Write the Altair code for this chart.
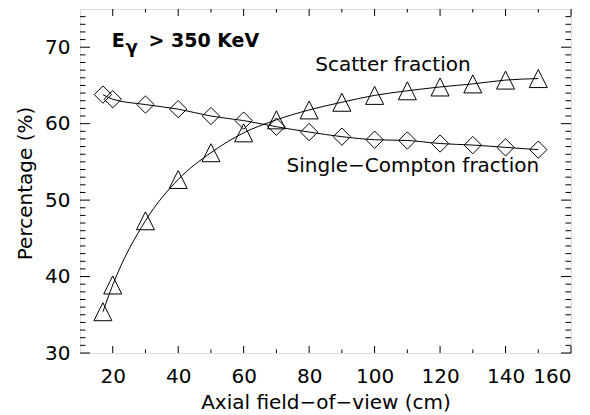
import altair as alt
import pandas as pd

# ---- data ----
afov = [17, 20, 30, 40, 50, 60, 70, 80, 90, 100, 110, 120, 130, 140, 150]
scatter_frac = [35.4, 38.9, 47.3, 52.7, 56.2, 58.8, 60.5, 61.8, 62.8, 63.7, 64.3, 64.8, 65.2, 65.7, 65.9]
single_frac = [63.8, 63.2, 62.5, 61.9, 61.0, 60.4, 59.6, 58.9, 58.3, 57.9, 57.8, 57.4, 57.2, 56.9, 56.6]

x_major = [20, 40, 60, 80, 100, 120, 140, 160]
x_minor = [30, 50, 70, 90, 110, 130, 150]
y_major = [30, 40, 50, 60, 70]
y_minor = [31, 32, 33, 34, 35, 36, 37, 38, 39, 41, 42, 43, 44, 45, 46, 47, 48, 49,
           51, 52, 53, 54, 55, 56, 57, 58, 59, 61, 62, 63, 64, 65, 66, 67, 68, 69,
           71, 72, 73, 74]

label_text = ["Scatter fraction", "Single\u2212Compton fraction"]
label_x = [105.6, 111.7]
label_y = [66.95, 53.7]

energy_text = ["E", "\u03b3", "> 350 KeV"]
energy_x = [19.7, 23.9, 30.9]
energy_y = [70.0, 69.2, 70.0]
energy_size = [19, 18, 19]

W, H = 491, 344
FONT = "DejaVu Sans"

xscale = alt.Scale(domain=[10, 160], nice=False, zero=False)
yscale = alt.Scale(domain=[30, 75], nice=False, zero=False)

x_axis = alt.Axis(values=x_major, title="Axial field\u2212of\u2212view (cm)",
                  tickSize=0, domain=False, grid=False, labelFontSize=20,
                  labelFont=FONT, labelColor="black", labelPadding=13,
                  titleFont=FONT, titleFontSize=20, titleFontWeight="normal",
                  titleColor="black", titleX=W / 2, titleY=55,
                  titleBaseline="alphabetic", titleAlign="center")
y_axis = alt.Axis(values=y_major, title="Percentage (%)", tickSize=0, domain=False,
                  grid=False, labelFontSize=20, labelFont=FONT, labelColor="black",
                  labelPadding=10, titleFont=FONT, titleFontSize=20,
                  titleFontWeight="normal", titleColor="black", titleX=-49,
                  titleY=H / 2 + 2, titleBaseline="alphabetic", titleAlign="center",
                  titleAngle=270)


def X(field):
    return alt.X(field, scale=xscale, axis=x_axis)


def Y(field):
    return alt.Y(field, scale=yscale, axis=y_axis)


df = pd.DataFrame({"afov": afov, "scatter": scatter_frac, "single": single_frac})

line_sc = alt.Chart(df).mark_line(color="black", strokeWidth=1, interpolate="monotone").encode(
    x=X("afov:Q"), y=Y("scatter:Q"))
line_si = alt.Chart(df).mark_line(color="black", strokeWidth=1, interpolate="monotone").encode(
    x=X("afov:Q"), y=Y("single:Q"))

pts_sc = alt.Chart(df).mark_point(shape="M0,-1L1,1L-1,1Z", size=324, filled=False,
                                  color="black", strokeWidth=1, opacity=1).encode(
    x=X("afov:Q"), y=Y("scatter:Q"))
pts_si = alt.Chart(df).mark_point(shape="M0,-1L1,0L0,1L-1,0Z", size=300, filled=False,
                                  color="black", strokeWidth=1, opacity=1).encode(
    x=X("afov:Q"), y=Y("single:Q"))


def xticks(vals, y0, y1):
    return alt.Chart(pd.DataFrame({"afov": vals})).mark_rule(color="black", strokeWidth=1).encode(
        x=X("afov:Q"), y=alt.value(y0), y2=alt.value(y1))


def yticks(vals, x0, x1):
    return alt.Chart(pd.DataFrame({"scatter": vals})).mark_rule(color="black", strokeWidth=1).encode(
        y=Y("scatter:Q"), x=alt.value(x0), x2=alt.value(x1))


tick_layers = [
    xticks(x_major, H, H - 7), xticks(x_minor, H, H - 3.5),
    xticks(x_major, 0, 7), xticks(x_minor, 0, 3.5),
    yticks(y_major, 0, 10), yticks(y_minor, 0, 5.5),
    yticks(y_major, W, W - 10), yticks(y_minor, W, W - 5.5),
]

labels = alt.Chart(pd.DataFrame({"t": label_text, "afov": label_x, "scatter": label_y})).mark_text(
    font=FONT, fontSize=20, color="black", align="center", baseline="alphabetic").encode(
    x=X("afov:Q"), y=Y("scatter:Q"), text="t:N")

energy = alt.Chart(pd.DataFrame({"t": energy_text, "afov": energy_x, "scatter": energy_y,
                                 "s": energy_size})).mark_text(
    font=FONT, fontWeight="bold", color="black", align="left", baseline="alphabetic").encode(
    x=X("afov:Q"), y=Y("scatter:Q"),
    text="t:N", size=alt.Size("s:Q", scale=None, legend=None))

chart = alt.layer(line_sc, line_si, pts_sc, pts_si, *tick_layers, labels, energy).properties(
    width=W, height=H,
    autosize=alt.AutoSizeParams(type="none"),
    padding={"left": 72, "top": 1, "right": 11, "bottom": 60},
).configure_view(stroke="black", strokeWidth=1.2).configure(background="white")

chart.save("out.html", embed_options={"renderer": "svg", "actions": False})
